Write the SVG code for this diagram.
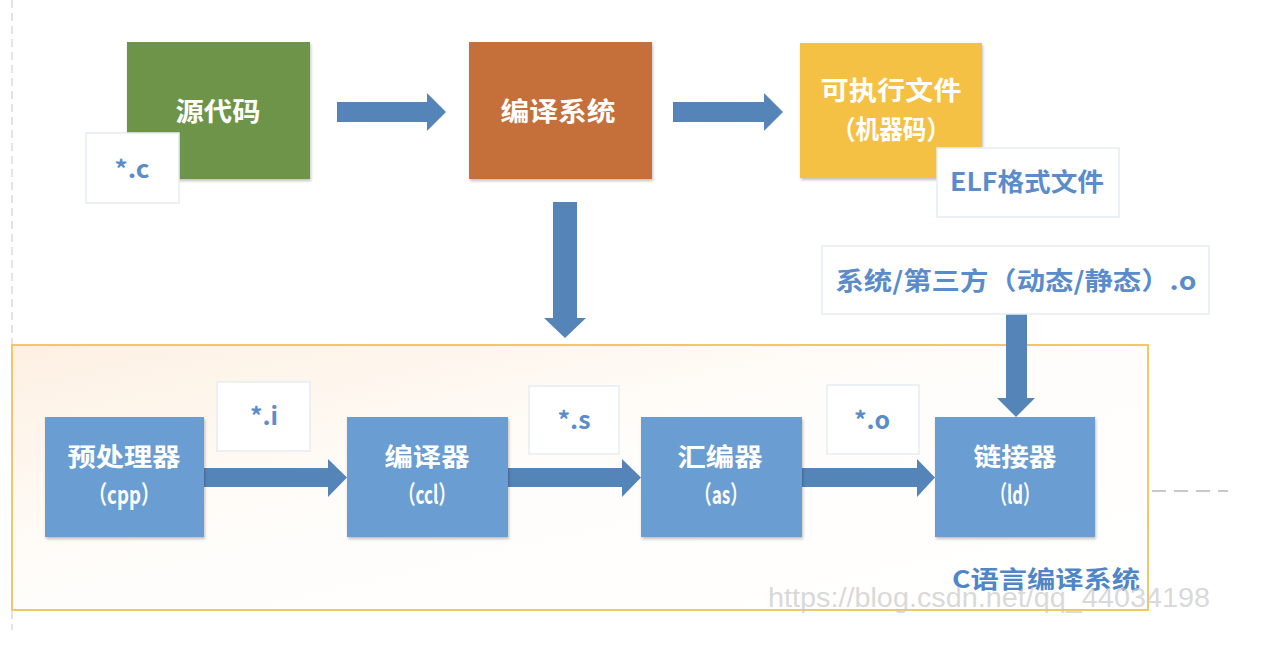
<svg xmlns="http://www.w3.org/2000/svg" width="1280" height="646" viewBox="0 0 1280 646">
<defs>
<linearGradient id="cg" x1="0" y1="0" x2="1" y2="1">
<stop offset="0" stop-color="#fdf0e2"/>
<stop offset="0.45" stop-color="#fffdfa"/>
<stop offset="1" stop-color="#ffffff"/>
</linearGradient>
<filter id="sh" x="-10%" y="-10%" width="125%" height="125%">
<feGaussianBlur in="SourceAlpha" stdDeviation="1.5"/>
<feOffset dx="1" dy="2"/>
<feComponentTransfer><feFuncA type="linear" slope="0.25"/></feComponentTransfer>
<feMerge><feMergeNode/><feMergeNode in="SourceGraphic"/></feMerge>
</filter>
<style>
text{font-family:"Microsoft YaHei","Noto Sans CJK SC","Noto Sans",sans-serif;font-weight:bold;}
.wt{fill:#ffffff;font-size:26px;text-anchor:middle;}
.wb{fill:#ffffff;font-size:25px;text-anchor:middle;}
.bt{fill:#5a8ccc;font-size:25px;text-anchor:middle;}
.bs{fill:#5a8ccc;font-size:24px;text-anchor:middle;}
.lab{fill:#ffffff;stroke:#e6edf5;stroke-width:1.5;}
.blue{fill:#6a9dd1;filter:url(#sh);}
.arr{fill:#5585b8;}
</style>
</defs>
<rect width="1280" height="646" fill="#ffffff"/>
<line x1="12" y1="0" x2="12" y2="630" stroke="#dcdcdc" stroke-width="1.5" stroke-dasharray="8,5"/>
<line x1="1152" y1="491" x2="1228" y2="491" stroke="#c8c8c8" stroke-width="2" stroke-dasharray="14,8"/>

<g id="container">
<rect x="12" y="345" width="1136" height="265" fill="url(#cg)" stroke="#f0c86a" stroke-width="2"/>
<text x="1140" y="588" style="fill:#4f86c8;font-size:24px;text-anchor:end;" textLength="188" lengthAdjust="spacingAndGlyphs">C语言编译系统</text>
</g>

<g id="connectors">
<polygon class="arr" points="337,102 427,102 427,93 446,112 427,131 427,122 337,122"/>
<polygon class="arr" points="673,102 764,102 764,93 783,112 764,131 764,122 673,122"/>
<polygon class="arr" points="553,202 577,202 577,318 586,318 565,338 544,318 553,318"/>
<polygon class="arr" points="1006,314 1027,314 1027,398 1035,398 1016,417 997,398 1006,398"/>
<polygon class="arr" points="204,468 328,468 328,459 347,477.5 328,497 328,487 204,487"/>
<polygon class="arr" points="508,468 622,468 622,459 641,477.5 622,497 622,487 508,487"/>
<polygon class="arr" points="802,468 917,468 917,459 935,477.5 917,497 917,487 802,487"/>
</g>

<g id="source">
<rect x="127" y="42" width="183" height="137" fill="#6e9449" filter="url(#sh)"/>
<text class="wt" x="218" y="121" textLength="85" lengthAdjust="spacingAndGlyphs">源代码</text>
</g>
<g id="label-c">
<rect class="lab" x="86" y="133" width="93" height="70"/>
<text class="bs" x="132" y="178" textLength="35" lengthAdjust="spacingAndGlyphs">*.c</text>
</g>
<g id="compile-system">
<rect x="469" y="42" width="183" height="137" fill="#c5703a" filter="url(#sh)"/>
<text class="wt" x="558" y="121" textLength="115" lengthAdjust="spacingAndGlyphs">编译系统</text>
</g>
<g id="executable">
<rect x="800" y="43" width="182" height="135" fill="#f4c144" filter="url(#sh)"/>
<text class="wt" x="891" y="100" textLength="141" lengthAdjust="spacingAndGlyphs">可执行文件</text>
<text class="wt" x="891" y="139" textLength="118" lengthAdjust="spacingAndGlyphs">（机器码）</text>
</g>
<g id="label-elf">
<rect class="lab" x="937" y="148" width="182" height="69"/>
<text class="bt" x="1027" y="191" textLength="154" lengthAdjust="spacingAndGlyphs">ELF格式文件</text>
</g>
<g id="label-lib">
<rect class="lab" x="822" y="246" width="387" height="68"/>
<text class="bt" x="1016" y="290" textLength="361" lengthAdjust="spacingAndGlyphs">系统/第三方（动态/静态）.o</text>
</g>

<g id="cpp">
<rect class="blue" x="45" y="417" width="159" height="120"/>
<text class="wb" x="124" y="466" textLength="113" lengthAdjust="spacingAndGlyphs">预处理器</text>
<text class="wb" x="124" y="504" textLength="71" lengthAdjust="spacingAndGlyphs">（cpp）</text>
</g>
<g id="label-i">
<rect class="lab" x="217" y="382" width="93" height="69"/>
<text class="bs" x="264" y="425" textLength="28" lengthAdjust="spacingAndGlyphs">*.i</text>
</g>
<g id="ccl">
<rect class="blue" x="347" y="417" width="161" height="120"/>
<text class="wb" x="427" y="466" textLength="85" lengthAdjust="spacingAndGlyphs">编译器</text>
<text class="wb" x="427" y="504" textLength="57" lengthAdjust="spacingAndGlyphs">（ccl）</text>
</g>
<g id="label-s">
<rect class="lab" x="529" y="386" width="90" height="68"/>
<text class="bs" x="574" y="429" textLength="33" lengthAdjust="spacingAndGlyphs">*.s</text>
</g>
<g id="as">
<rect class="blue" x="641" y="417" width="161" height="120"/>
<text class="wb" x="720" y="466" textLength="85" lengthAdjust="spacingAndGlyphs">汇编器</text>
<text class="wb" x="721" y="504" textLength="53" lengthAdjust="spacingAndGlyphs">（as）</text>
</g>
<g id="label-o">
<rect class="lab" x="827" y="385" width="92" height="69"/>
<text class="bs" x="872" y="429" textLength="36" lengthAdjust="spacingAndGlyphs">*.o</text>
</g>
<g id="ld">
<rect class="blue" x="935" y="417" width="160" height="120"/>
<text class="wb" x="1015" y="466" textLength="83" lengthAdjust="spacingAndGlyphs">链接器</text>
<text class="wb" x="1015" y="504" textLength="49" lengthAdjust="spacingAndGlyphs">（ld）</text>
</g>

<text x="768" y="607" style="font-family:'Liberation Sans',Arial,sans-serif;font-weight:normal;fill:#c8c8c8;fill-opacity:0.7;font-size:27px;" textLength="442" lengthAdjust="spacingAndGlyphs">https://blog.csdn.net/qq_44034198</text>
</svg>
